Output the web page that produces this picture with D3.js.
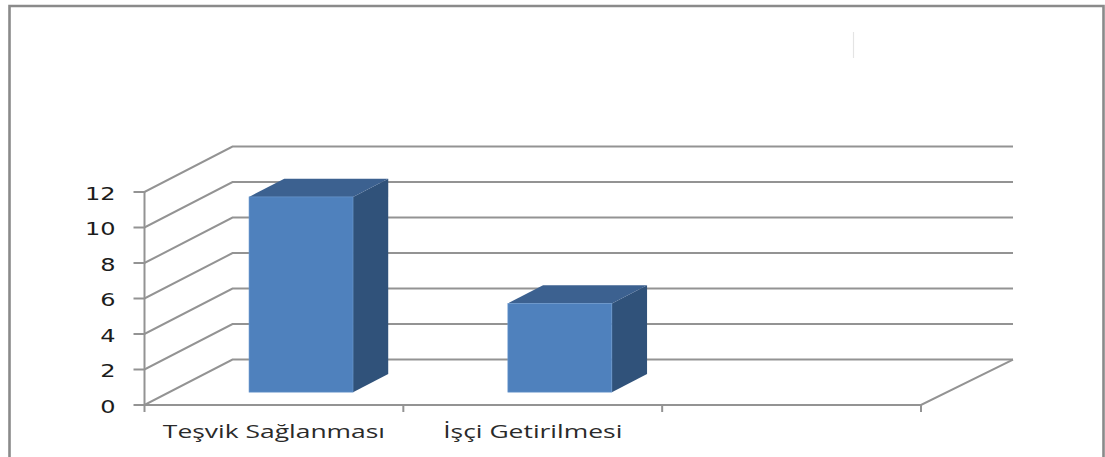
<!DOCTYPE html>
<html lang="tr">
<head>
<meta charset="utf-8">
<title>Teşvik ve İşçi Getirilmesi</title>
<script src="https://cdn.jsdelivr.net/npm/d3@7"></script>
<style>
  html, body { margin: 0; padding: 0; background: #fff; overflow: hidden; }
  svg { display: block; }
  .tick-label { font-family: "DejaVu Sans", sans-serif; font-size: 18.5px; fill: #1c1c1c; }
  .cat-label { font-family: "Open Sans", sans-serif; font-size: 18.5px; fill: #2a2a2a; }
</style>
</head>
<body>
<svg id="chart" width="1105" height="457"></svg>
<script>
// Chart values
const categories = ["Teşvik Sağlanması", "İşçi Getirilmesi", ""];
const values = [11, 5];
const yTicks = [0, 2, 4, 6, 8, 10, 12];

const colors = {
  frame: "#8a8a8a",
  grid: "#939393",
  front: "#4f81bd",
  side: "#30527a",
  top: "#3c6190",
  edge: "#6f9bd0"
};

// Front plane of the 3D box and the depth offset to its back wall
const plot = { left: 144.5, right: 921, floor: 405, ceil: 192 };
const depth = { dx: 88, dy: -45.4, rightDx: 92 };
// Where the bars sit inside the box depth (0 = front, 1 = back)
const barDepth = { start: 0.283, size: 0.4 };
const barWidth = 104;
const barShift = 2.2;

const x = d3.scaleBand().domain(categories).range([plot.left, plot.right]).paddingInner(0).paddingOuter(0);
const y = d3.scaleLinear().domain([0, 12]).range([plot.floor, plot.ceil]);

const svg = d3.select("#chart");

// Page frame: top, left and right rules, open at the bottom
svg.append("path")
  .attr("d", "M9.5,457V6H1103.5V457")
  .attr("fill", "none")
  .attr("stroke", colors.frame)
  .attr("stroke-width", 2.6);

// Faint stray rule in the empty title area
svg.append("line")
  .attr("x1", 853.5).attr("x2", 853.5).attr("y1", 32).attr("y2", 58)
  .attr("stroke", "#e4e4e4").attr("stroke-width", 1.2);

const grid = svg.append("g")
  .attr("fill", "none")
  .attr("stroke", colors.grid)
  .attr("stroke-width", 2);

// Back wall gridlines and side wall diagonals
grid.selectAll("path.wall")
  .data(yTicks)
  .join("path")
  .attr("class", "wall")
  .attr("d", d => {
    const fy = y(d);
    const by = fy + depth.dy;
    return `M${plot.left - 11},${fy}H${plot.left}L${plot.left + depth.dx},${by}H${plot.right + depth.rightDx}`;
  });

// Floor: front edge, right diagonal
grid.append("path")
  .attr("d", `M${plot.left},${plot.floor}H${plot.right}L${plot.right + depth.rightDx},${plot.floor + depth.dy}`);

// Front vertical axis
grid.append("line")
  .attr("x1", plot.left).attr("x2", plot.left)
  .attr("y1", y(12)).attr("y2", plot.floor + 7);

// Category tick marks along the floor
const catEdges = categories.map(c => x(c)).concat(plot.right);
grid.selectAll("line.cat-tick")
  .data(catEdges.slice(1))
  .join("line")
  .attr("class", "cat-tick")
  .attr("x1", d => d).attr("x2", d => d)
  .attr("y1", plot.floor).attr("y2", plot.floor + 7);

// Bars as three visible faces of a box
svg.append("g").selectAll("g")
  .data(values)
  .join("g")
  .each(function (v, i) {
    const g = d3.select(this);
    const offX = barDepth.start * depth.dx + barShift;
    const offY = barDepth.start * depth.dy;
    const dX = barDepth.size * depth.dx;
    const dY = barDepth.size * depth.dy;
    const left = x(categories[i]) + x.bandwidth() / 2 - barWidth / 2 + offX;
    const right = left + barWidth;
    const top = y(v) + offY;
    const bottom = y(0) + offY;

    g.append("polygon")
      .attr("fill", colors.side)
      .attr("points", [[right, top], [right + dX, top + dY], [right + dX, bottom + dY], [right, bottom]].join(" "));
    g.append("polygon")
      .attr("fill", colors.top)
      .attr("points", [[left, top], [left + dX, top + dY], [right + dX, top + dY], [right, top]].join(" "));
    g.append("rect")
      .attr("x", left).attr("y", top)
      .attr("width", barWidth).attr("height", bottom - top)
      .attr("fill", colors.front)
      .attr("stroke", colors.edge).attr("stroke-width", 0.6);
  });

// Value axis labels, stretched wide
svg.append("g").selectAll("text")
  .data(yTicks)
  .join("text")
  .attr("class", "tick-label")
  .attr("text-anchor", "end")
  .attr("transform", d => `translate(115.5,${y(d) + 7.5}) scale(1.3,1)`)
  .text(d => d);

// Category labels, stretched wide
svg.append("g").selectAll("text")
  .data(categories.filter(c => c))
  .join("text")
  .attr("class", "cat-label")
  .attr("text-anchor", "middle")
  .attr("transform", d => `translate(${x(d) + x.bandwidth() / 2},438) scale(1.43,1)`)
  .text(d => d);
</script>
</body>
</html>
